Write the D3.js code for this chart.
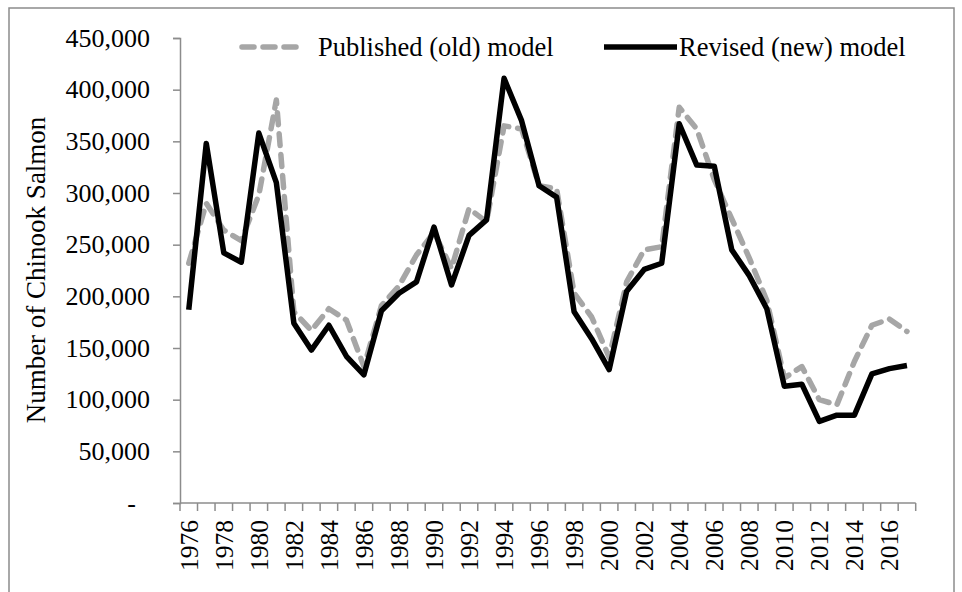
<!DOCTYPE html>
<html>
<head>
<meta charset="utf-8">
<script src="https://cdn.jsdelivr.net/npm/d3@7/dist/d3.min.js"></script>
<style>
html,body{margin:0;padding:0;background:#fff;}
svg{display:block;font-family:"Liberation Serif","Times New Roman",serif;}
</style>
</head>
<body>
<svg id="chart" width="962" height="592"></svg>
<script>
const years = d3.range(1976, 2018);
const publishedOld = [232000,290000,264000,254000,298000,390000,185000,167000,188000,177000,
  132000,191000,210000,240000,262000,227000,285000,272000,365000,362000,
  307000,304000,203000,180000,141000,214000,245000,248000,383000,362000,
  313000,275000,237000,196000,121000,132000,100000,95000,137000,172000,
  178000,166000];
const revisedNew = [187000,348000,242000,233000,358000,310000,174000,148000,172000,142000,
  124000,186000,203000,214000,267000,211000,259000,274000,411000,370000,
  307000,296000,185000,159000,129000,205000,226000,232000,367000,327000,
  326000,245000,220000,188000,113000,115000,79000,85000,85000,125000,
  130000,133000];
const yTicks = [0,50000,100000,150000,200000,250000,300000,350000,400000,450000];
const xLabelYears = years.filter(v => (v - 1976) % 2 === 0);
const seriesNames = ["Published (old) model", "Revised (new) model"];
const yTitle = "Number of Chinook Salmon";

(function(){
const svg = d3.select("#chart");
const axisColor = "#8c8c8c";

// outer frame
svg.append("rect").attr("x",9).attr("y",8).attr("width",945).attr("height",600)
  .attr("fill","none").attr("stroke",axisColor).attr("stroke-width",1.5);

const mLeft = 180, mRight = 915.7, mTop = 38, mBottom = 503;
const x = d3.scaleBand().domain(years).range([mLeft, mRight]).padding(0);
const y = d3.scaleLinear().domain([0, 450000]).range([mBottom, mTop]);
const cx = d => x(d) + x.bandwidth()/2;

// y axis
const yAxis = d3.axisLeft(y).tickValues(yTicks).tickSize(7).tickPadding(23)
  .tickFormat(d => d === 0 ? "-" : d3.format(",")(d));
const gy = svg.append("g").attr("transform",`translate(${mLeft},0)`).call(yAxis);
gy.select(".domain").attr("stroke",axisColor).attr("stroke-width",1.5);
gy.selectAll(".tick line").attr("stroke",axisColor).attr("stroke-width",1.5);
gy.selectAll(".tick text").attr("font-size",26).attr("fill","#000")
  .attr("font-family","'Liberation Serif','Times New Roman',serif")
  .attr("dx", d => d === 0 ? -14 : 0);

// x axis: ticks at category boundaries
svg.append("line").attr("x1",mLeft).attr("x2",mRight).attr("y1",mBottom).attr("y2",mBottom)
  .attr("stroke",axisColor).attr("stroke-width",1.5);
const boundaries = years.map(d => x(d)).concat([mRight]);
svg.append("g").selectAll("line").data(boundaries).join("line")
  .attr("x1",d=>d).attr("x2",d=>d).attr("y1",mBottom).attr("y2",mBottom+8)
  .attr("stroke",axisColor).attr("stroke-width",1.5);
svg.append("g").selectAll("text").data(xLabelYears).join("text")
  .attr("transform", d => `translate(${cx(d)},${mBottom+17}) rotate(-90)`)
  .attr("text-anchor","end").attr("dy","0.35em")
  .attr("font-size",25.5).attr("fill","#000").text(d => d);

// y title
svg.append("text").attr("transform","translate(36,270) rotate(-90)")
  .attr("text-anchor","middle").attr("dy","0.35em").attr("font-size",27)
  .attr("fill","#000").text(yTitle);

// lines
const line = data => d3.line().x((d,i)=>cx(years[i])).y(d=>y(d))(data);
svg.append("path").attr("d", line(publishedOld)).attr("fill","none")
  .attr("stroke","#a6a6a6").attr("stroke-width",5.5)
  .attr("stroke-dasharray","12,9").attr("stroke-linecap","round").attr("stroke-linejoin","round");
svg.append("path").attr("d", line(revisedNew)).attr("fill","none")
  .attr("stroke","#000").attr("stroke-width",5.5).attr("stroke-linejoin","round");

// legend
const lg = svg.append("g");
lg.append("line").attr("x1",242).attr("x2",302).attr("y1",47).attr("y2",47)
  .attr("stroke","#a6a6a6").attr("stroke-width",5.5).attr("stroke-dasharray","12,9")
  .attr("stroke-linecap","round");
lg.append("text").attr("x",318).attr("y",47).attr("dy","0.35em").attr("font-size",26.5)
  .attr("fill","#000").text(seriesNames[0]);
lg.append("line").attr("x1",604).attr("x2",677).attr("y1",47).attr("y2",47)
  .attr("stroke","#000").attr("stroke-width",5.5);
lg.append("text").attr("x",679).attr("y",47).attr("dy","0.35em").attr("font-size",26.5)
  .attr("fill","#000").text(seriesNames[1]);
})();
</script>
</body>
</html>
